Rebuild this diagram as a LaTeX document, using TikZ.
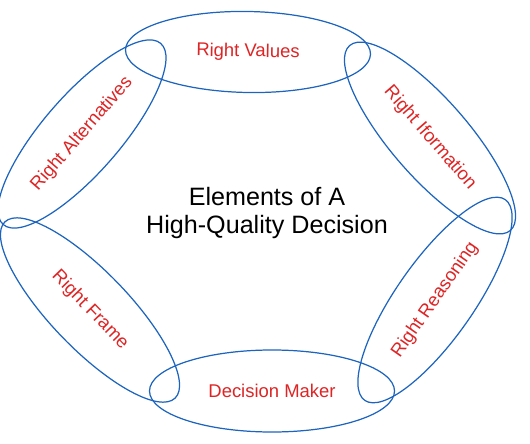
\documentclass[tikz,border=0pt]{standalone}
\usepackage{fontspec}
\setmainfont{Liberation Sans}
\usepackage{xcolor}
\usetikzlibrary{shapes.geometric}
\definecolor{ringblue}{RGB}{28,100,190}
\definecolor{labelred}{RGB}{222,36,36}

\begin{document}
\begin{tikzpicture}[elem/.style={ellipse, draw=ringblue, line width=0.7pt, minimum width=4.9cm, minimum height=1.55cm, inner sep=0pt, text=labelred, font=\fontsize{10.5}{12}\selectfont}]
\useasboundingbox (0,0) rectangle (10.6,8.86);
\node[elem, minimum height=1.62cm, rotate=-1] (values) at (4.96,7.82) {Right Values};
\node[elem, rotate=-49] (info) at (8.6,6.1) {Right Iformation};
\node[elem, rotate=55] (reason) at (8.7,2.86) {Right Reasoning};
\node[elem, minimum height=1.64cm] (maker) at (5.44,1.04) {Decision Maker};
\node[elem, rotate=-46] (frame) at (1.8,2.66) {Right Frame};
\node[elem, minimum width=4.8cm, rotate=49] (alt) at (1.64,6.18) {Right Alternatives};
\node[align=center, font=\fontsize{14.3}{16.4}\selectfont] (title) at (5.34,4.6) {Elements of A\\High-Quality Decision};
\end{tikzpicture}
\end{document}
